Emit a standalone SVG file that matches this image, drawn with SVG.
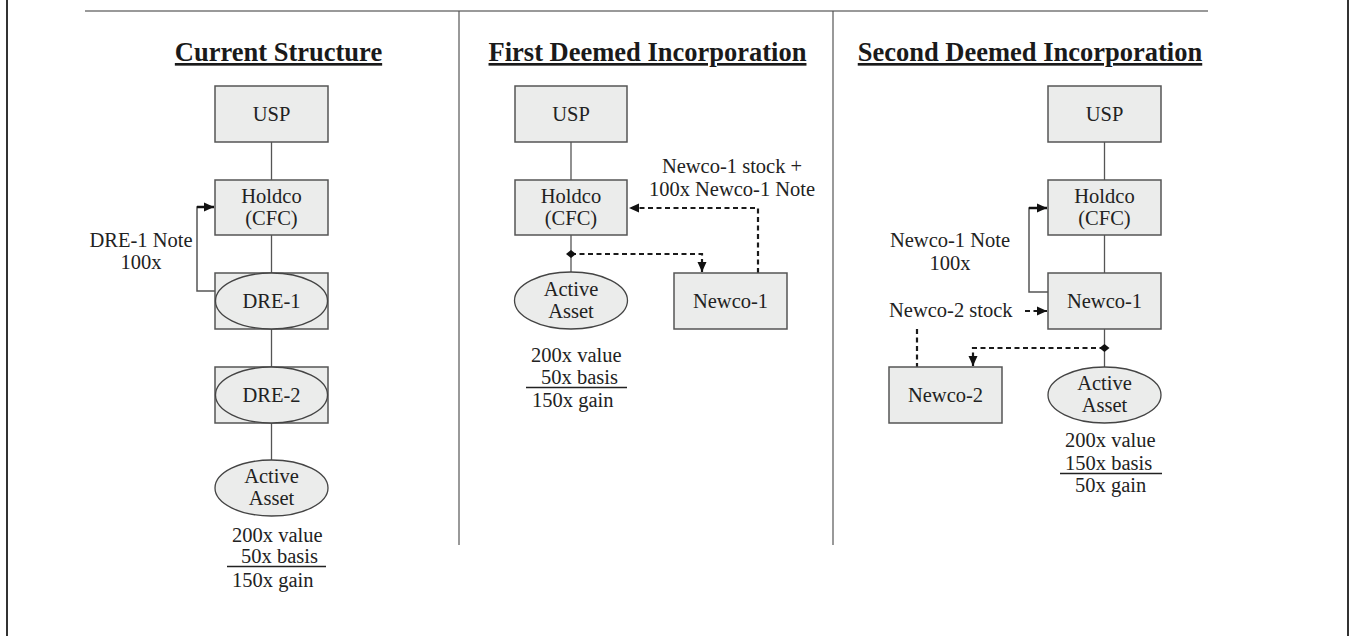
<svg xmlns="http://www.w3.org/2000/svg" width="1351" height="636" viewBox="0 0 1351 636">
  <style>
    .frame { stroke: #333; stroke-width: 2; fill: none; }
    .rule { stroke: #777; stroke-width: 1.5; fill: none; }
    .sep { stroke: #555; stroke-width: 1.2; fill: none; }
    .box { fill: #ebeceb; stroke: #555; stroke-width: 1.5; }
    .oval { fill: #ebeceb; stroke: #444; stroke-width: 1.3; }
    .link { stroke: #555; stroke-width: 1.3; fill: none; }
    .flow { stroke: #555; stroke-width: 1.5; fill: none; }
    .dash { stroke: #1a1a1a; stroke-width: 2.2; stroke-dasharray: 5 3.5; fill: none; }
    .ul { stroke: #222; stroke-width: 1.3; }
    .title { font-family: "Liberation Serif", "Times New Roman", serif; font-weight: bold; font-size: 26.5px; fill: #1a1a1a; text-anchor: middle; text-decoration: underline; }
    .t { font-family: "Liberation Serif", "Times New Roman", serif; font-size: 20.5px; fill: #222; text-anchor: middle; }
    .ts { font-family: "Liberation Serif", "Times New Roman", serif; font-size: 20.5px; fill: #222; }
  </style>
  <defs>
    <marker id="arrow" markerUnits="userSpaceOnUse" markerWidth="10" markerHeight="10" refX="10" refY="5" orient="auto">
      <path d="M0,0.5 L10,5 L0,9.5 z" fill="#111"/>
    </marker>
    <marker id="diamond" markerUnits="userSpaceOnUse" markerWidth="10" markerHeight="10" refX="5" refY="5" orient="auto">
      <path d="M0,5 L5,1 L10,5 L5,9 z" fill="#111"/>
    </marker>
  </defs>

  <rect width="1351" height="636" fill="#ffffff"/>

  <!-- page frame, top rule and column separators -->
  <g id="frame">
    <line class="frame" x1="7" y1="0" x2="7" y2="636"/>
    <line class="frame" x1="1348" y1="0" x2="1348" y2="636"/>
    <line class="rule" x1="85" y1="11" x2="1208" y2="11"/>
    <line class="sep" x1="459" y1="11" x2="459" y2="545"/>
    <line class="sep" x1="833" y1="11" x2="833" y2="545"/>
  </g>

  <!-- column titles -->
  <g id="titles">
    <text class="title" x="278.5" y="61">Current Structure</text>
    <text class="title" x="647.5" y="61">First Deemed Incorporation</text>
    <text class="title" x="1030" y="61">Second Deemed Incorporation</text>
  </g>

  <!-- connectors -->
  <g id="connectors">
    <!-- current structure -->
    <line class="link" x1="271.5" y1="142" x2="271.5" y2="180"/>
    <line class="link" x1="271.5" y1="235" x2="271.5" y2="273"/>
    <line class="link" x1="271.5" y1="329" x2="271.5" y2="367"/>
    <line class="link" x1="271.5" y1="423" x2="271.5" y2="460"/>
    <path class="flow" d="M215,291 H197 V207 H204"/>
    <line stroke="#111" stroke-width="2.5" x1="197" y1="207" x2="214" y2="207" marker-end="url(#arrow)"/>

    <!-- first deemed incorporation -->
    <line class="link" x1="571" y1="142" x2="571" y2="180"/>
    <line class="link" x1="571" y1="235" x2="571" y2="272"/>
    <path class="dash" d="M758,273 V208 H629" marker-end="url(#arrow)"/>
    <path class="dash" d="M571,254 H702 V272" marker-start="url(#diamond)" marker-end="url(#arrow)"/>

    <!-- second deemed incorporation -->
    <line class="link" x1="1104.5" y1="142" x2="1104.5" y2="180"/>
    <line class="link" x1="1104.5" y1="235" x2="1104.5" y2="273"/>
    <line class="link" x1="1104.5" y1="329" x2="1104.5" y2="367"/>
    <path class="flow" d="M1048,292 H1029 V208 H1036"/>
    <line stroke="#111" stroke-width="2.5" x1="1029" y1="208" x2="1047" y2="208" marker-end="url(#arrow)"/>
    <path class="dash" d="M1025,311 H1047" marker-end="url(#arrow)"/>
    <path class="dash" d="M917,329 V367"/>
    <path class="dash" d="M1104.5,348 H973 V366" marker-start="url(#diamond)" marker-end="url(#arrow)"/>
  </g>

  <!-- current structure nodes -->
  <g id="cs-usp">
    <rect class="box" x="215" y="86" width="113" height="56"/>
    <text class="t" x="271.5" y="121">USP</text>
  </g>
  <g id="cs-holdco">
    <rect class="box" x="215" y="180" width="113" height="55"/>
    <text class="t" x="271.5" y="203">Holdco</text>
    <text class="t" x="271.5" y="225">(CFC)</text>
  </g>
  <g id="cs-dre1">
    <rect class="box" x="215" y="273" width="113" height="56"/>
    <ellipse class="oval" cx="271.5" cy="301" rx="56" ry="28"/>
    <text class="t" x="271.5" y="308">DRE-1</text>
  </g>
  <g id="cs-dre2">
    <rect class="box" x="215" y="367" width="113" height="56"/>
    <ellipse class="oval" cx="271.5" cy="395" rx="56" ry="28"/>
    <text class="t" x="271.5" y="402">DRE-2</text>
  </g>
  <g id="cs-asset">
    <ellipse class="oval" cx="271.5" cy="488" rx="56.5" ry="28"/>
    <text class="t" x="271.5" y="483">Active</text>
    <text class="t" x="271.5" y="505">Asset</text>
  </g>
  <g id="cs-labels">
    <text class="t" x="141" y="247">DRE-1 Note</text>
    <text class="t" x="141" y="269">100x</text>
    <text class="ts" x="232" y="542">200x value</text>
    <text class="ts" x="241" y="563">50x basis</text>
    <line class="ul" x1="227" y1="566.5" x2="326" y2="566.5"/>
    <text class="ts" x="232" y="587">150x gain</text>
  </g>

  <!-- first deemed incorporation nodes -->
  <g id="fd-usp">
    <rect class="box" x="515" y="86" width="112" height="56"/>
    <text class="t" x="571" y="121">USP</text>
  </g>
  <g id="fd-holdco">
    <rect class="box" x="515" y="180" width="112" height="55"/>
    <text class="t" x="571" y="203">Holdco</text>
    <text class="t" x="571" y="225">(CFC)</text>
  </g>
  <g id="fd-asset">
    <ellipse class="oval" cx="571" cy="300.5" rx="56.5" ry="28.5"/>
    <text class="t" x="571" y="296">Active</text>
    <text class="t" x="571" y="318">Asset</text>
  </g>
  <g id="fd-newco1">
    <rect class="box" x="674" y="273" width="113" height="56"/>
    <text class="t" x="730.5" y="308">Newco-1</text>
  </g>
  <g id="fd-labels">
    <text class="t" x="732" y="173">Newco-1 stock +</text>
    <text class="t" x="732" y="196">100x Newco-1 Note</text>
    <text class="ts" x="531" y="362">200x value</text>
    <text class="ts" x="541" y="384">50x basis</text>
    <line class="ul" x1="526" y1="387.5" x2="627" y2="387.5"/>
    <text class="ts" x="532" y="407">150x gain</text>
  </g>

  <!-- second deemed incorporation nodes -->
  <g id="sd-usp">
    <rect class="box" x="1048" y="86" width="113" height="56"/>
    <text class="t" x="1104.5" y="121">USP</text>
  </g>
  <g id="sd-holdco">
    <rect class="box" x="1048" y="180" width="113" height="55"/>
    <text class="t" x="1104.5" y="203">Holdco</text>
    <text class="t" x="1104.5" y="225">(CFC)</text>
  </g>
  <g id="sd-newco1">
    <rect class="box" x="1048" y="273" width="113" height="56"/>
    <text class="t" x="1104.5" y="308">Newco-1</text>
  </g>
  <g id="sd-newco2">
    <rect class="box" x="889" y="367" width="113" height="56"/>
    <text class="t" x="945.5" y="402">Newco-2</text>
  </g>
  <g id="sd-asset">
    <ellipse class="oval" cx="1104.5" cy="395" rx="56.5" ry="28"/>
    <text class="t" x="1104.5" y="390">Active</text>
    <text class="t" x="1104.5" y="412">Asset</text>
  </g>
  <g id="sd-labels">
    <text class="t" x="950" y="247">Newco-1 Note</text>
    <text class="t" x="950" y="270">100x</text>
    <text class="ts" x="889" y="317">Newco-2 stock</text>
    <text class="ts" x="1065" y="447">200x value</text>
    <text class="ts" x="1065" y="470">150x basis</text>
    <line class="ul" x1="1060" y1="473.5" x2="1162" y2="473.5"/>
    <text class="ts" x="1075" y="492">50x gain</text>
  </g>
</svg>
